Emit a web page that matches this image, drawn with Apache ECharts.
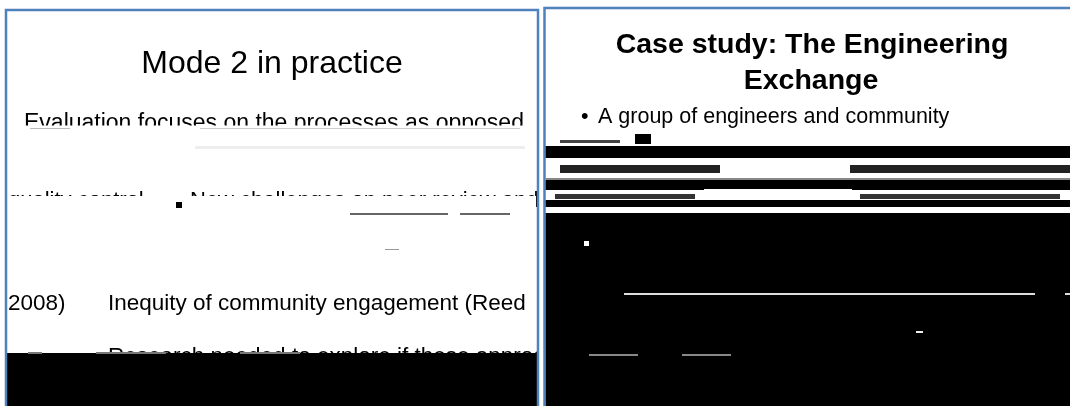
<!DOCTYPE html>
<html><head><meta charset="utf-8">
<script src="https://cdn.jsdelivr.net/npm/echarts@6/dist/echarts.min.js"></script>
<style>html,body{margin:0;padding:0;background:#fff}#c{width:1070px;height:406px}</style>
</head><body><div id="c"></div>
<script>
// Slide texts
const leftTitle = 'Mode 2 in practice';
const leftLine1 = 'Evaluation focuses on the processes as opposed';
const leftLine2a = 'quality control';
const leftLine2b = 'New challenges on peer review and';
const leftLine3a = '2008)';
const leftLine3b = 'Inequity of community engagement (Reed';
const leftLine4 = 'Research needed to explore if these approach';
const rightTitle = ['Case study: The Engineering', 'Exchange'];
const rightBullet = 'A group of engineers and community';

const BORDER = '#4f81bd';
const SANS = '"Liberation Sans", Arial, sans-serif';

function rect(x, y, w, h, fill) {
  return { type: 'rect', shape: { x: x, y: y, width: w, height: h }, style: { fill: fill }, silent: true };
}
function text(str, x, y, size, opts) {
  opts = opts || {};
  return {
    type: 'text', silent: true,
    style: {
      text: str, x: x, y: y,
      font: (opts.bold ? 'bold ' : '') + size + 'px ' + SANS,
      fill: opts.fill || '#000',
      textAlign: opts.align || 'left',
      textVerticalAlign: 'middle'
    }
  };
}

const els = [];
// left slide background
els.push(rect(6, 10, 532, 430, '#fff'));

// left slide texts
els.push(text(leftTitle, 272, 64.5, 32, { align: 'center' }));
els.push(text(leftLine1, 24, 124, 23));
els.push(rect(8, 125.5, 528, 18, '#fff'));
els.push(rect(30, 128, 40, 1, '#bbb'));
els.push(rect(200, 128, 320, 1, '#ccc'));
els.push(rect(195, 146, 330, 3, '#eeeeee'));
els.push(text(leftLine2a, 8, 200.5, 22));
els.push(text(leftLine2b, 190, 200.5, 22));
els.push(rect(8, 196, 528, 16, '#fff'));
els.push(rect(176, 202, 6, 6, '#000'));
els.push(rect(350, 213, 98, 2, '#666'));
els.push(rect(460, 213, 50, 2, '#666'));
els.push(rect(385, 249, 14, 1, '#999'));
els.push(text(leftLine3a, 8, 304, 22.5));
els.push(text(leftLine3b, 108, 304, 22.5));
els.push(text(leftLine4, 108, 356.5, 22.5));
els.push(rect(7, 353, 530, 60, '#000'));
els.push(rect(28, 352, 14, 2, '#777'));
els.push(rect(96, 352, 70, 2, '#777'));
els.push(rect(240, 352, 60, 2, '#777'));

// gap between slides
els.push(rect(538, 0, 8, 406, '#fff'));
// left slide frame
els.push({ type: 'rect', silent: true, shape: { x: 6, y: 10, width: 532, height: 430 }, style: { fill: 'none', stroke: BORDER, lineWidth: 2.5 } });
// right slide frame
els.push({ type: 'rect', silent: true, shape: { x: 544.5, y: 8, width: 600, height: 430 }, style: { fill: '#fff', stroke: BORDER, lineWidth: 2.5 } });

// right slide texts
els.push(text(rightTitle[0], 812, 45, 28.5, { bold: true, align: 'center' }));
els.push(text(rightTitle[1], 811, 81, 28.5, { bold: true, align: 'center' }));
els.push(text('\u2022', 581, 117.5, 21.5));
els.push(text(rightBullet, 598, 117.5, 21.5));
// corrupted region of right slide
els.push(rect(635, 134, 16, 10, '#000'));
els.push(rect(560, 140, 60, 3, '#444'));
els.push(rect(545.7, 146, 530, 12, '#000'));
els.push(rect(560, 165, 160, 8, '#222'));
els.push(rect(850, 165, 220, 8, '#222'));
els.push(rect(545.7, 178, 530, 2, '#888'));
els.push(rect(545.7, 180, 530, 10, '#000'));
els.push(rect(704, 189, 148, 2, '#fff'));
els.push(rect(555, 194, 140, 5, '#333'));
els.push(rect(860, 194, 200, 5, '#333'));
els.push(rect(545.7, 200, 530, 7, '#000'));
els.push(rect(545.7, 213, 530, 200, '#000'));
els.push(rect(624, 293, 411, 2, '#ddd'));
els.push(rect(1065, 293, 5, 2, '#ddd'));
els.push(rect(916, 331, 7, 2, '#eee'));
els.push(rect(584, 241, 5, 5, '#fff'));
els.push(rect(589, 354, 49, 2, '#888'));
els.push(rect(682, 354, 49, 2, '#888'));

const chart = echarts.init(document.getElementById('c'));
chart.setOption({ backgroundColor: '#fff', animation: false, graphic: { elements: els } });
</script>
</body></html>
